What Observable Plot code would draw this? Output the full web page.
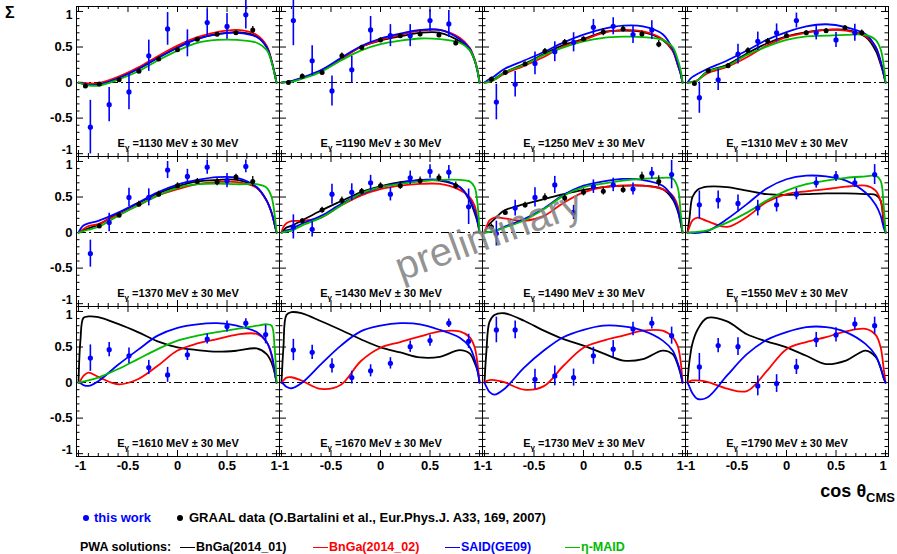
<!DOCTYPE html>
<html><head><meta charset="utf-8">
<script src="https://cdn.jsdelivr.net/npm/d3@7"></script>
<script src="https://cdn.jsdelivr.net/npm/@observablehq/plot@0.6"></script>
<style>
body{margin:0;background:#fff;}
#wrap{position:relative;width:897px;height:554px;font-family:"Liberation Sans",Arial,Helvetica,sans-serif;overflow:hidden;}
#wrap svg{display:block;}
.leg{position:absolute;font-weight:bold;white-space:nowrap;line-height:14px;}
.r1{font-size:13px;}
.r2{font-size:12.5px;}
.dot{position:absolute;width:6px;height:6px;border-radius:50%;}
.ln{position:absolute;width:15px;height:0;border-top:1.5px solid;}
</style></head><body><div id="wrap"></div>
<script>
// ---------------- data ----------------
const energies = [1130, 1190, 1250, 1310, 1370, 1430, 1490, 1550, 1610, 1670, 1730, 1790];
const energyBinHalfWidth = 30;

const cosGrid = [-1, -0.98, -0.95, -0.9, -0.8, -0.6, -0.4, -0.2, 0, 0.2, 0.4, 0.6, 0.8, 0.9, 0.95, 0.98, 1];

// PWA solution BnGa(2014_01) (black)
const bngaA = [
  [0, -0.005, -0.015, -0.03, -0.03, 0.06, 0.19, 0.345, 0.495, 0.62, 0.68, 0.71, 0.65, 0.5, 0.3, 0.13, 0],
  [0, 0.002, 0.008, 0.015, 0.06, 0.17, 0.33, 0.50, 0.59, 0.65, 0.70, 0.70, 0.58, 0.46, 0.31, 0.16, 0],
  [0, 0.005, 0.015, 0.05, 0.14, 0.26, 0.40, 0.53, 0.61, 0.71, 0.73, 0.71, 0.60, 0.45, 0.26, 0.13, 0],
  [0, 0.003, 0.01, 0.03, 0.155, 0.25, 0.41, 0.55, 0.65, 0.71, 0.74, 0.74, 0.64, 0.45, 0.26, 0.12, 0],
  [0, 0.01, 0.03, 0.06, 0.11, 0.27, 0.41, 0.55, 0.65, 0.72, 0.74, 0.74, 0.63, 0.45, 0.28, 0.12, 0],
  [0, 0.03, 0.07, 0.095, 0.165, 0.31, 0.44, 0.566, 0.65, 0.71, 0.73, 0.73, 0.64, 0.45, 0.28, 0.14, 0],
  [0, 0.06, 0.12, 0.19, 0.31, 0.40, 0.47, 0.54, 0.60, 0.64, 0.66, 0.66, 0.61, 0.47, 0.31, 0.14, 0],
  [0, 0.2, 0.5, 0.60, 0.645, 0.64, 0.59, 0.54, 0.53, 0.54, 0.55, 0.55, 0.54, 0.53, 0.45, 0.15, 0],
  [0, 0.6, 0.91, 0.93, 0.92, 0.825, 0.71, 0.58, 0.495, 0.457, 0.434, 0.448, 0.48, 0.40, 0.28, 0.14, 0],
  [0, 0.5, 0.95, 0.99, 0.976, 0.863, 0.74, 0.61, 0.495, 0.425, 0.354, 0.363, 0.457, 0.41, 0.28, 0.165, 0],
  [0, 0.45, 0.85, 0.95, 0.975, 0.87, 0.73, 0.61, 0.52, 0.41, 0.31, 0.33, 0.45, 0.40, 0.26, 0.12, 0],
  [0, 0.3, 0.55, 0.74, 0.91, 0.86, 0.68, 0.58, 0.495, 0.377, 0.26, 0.31, 0.45, 0.36, 0.21, 0.07, 0]
];
// PWA solution BnGa(2014_02) (red)
const bngaB = [
  [0, 0, -0.005, -0.01, -0.01, 0.08, 0.21, 0.37, 0.52, 0.64, 0.71, 0.74, 0.67, 0.52, 0.31, 0.13, 0],
  [0, 0.002, 0.008, 0.015, 0.06, 0.165, 0.33, 0.50, 0.60, 0.67, 0.73, 0.74, 0.63, 0.49, 0.33, 0.17, 0],
  [0, 0.003, 0.01, 0.04, 0.12, 0.235, 0.36, 0.51, 0.60, 0.70, 0.74, 0.72, 0.61, 0.45, 0.26, 0.13, 0],
  [0, 0.003, 0.01, 0.03, 0.13, 0.22, 0.355, 0.52, 0.64, 0.70, 0.74, 0.73, 0.65, 0.50, 0.30, 0.13, 0],
  [0, 0.02, 0.05, 0.09, 0.12, 0.25, 0.38, 0.52, 0.61, 0.68, 0.71, 0.71, 0.63, 0.45, 0.28, 0.12, 0],
  [0, 0.08, 0.13, 0.16, 0.165, 0.21, 0.38, 0.52, 0.61, 0.66, 0.684, 0.684, 0.60, 0.50, 0.38, 0.19, 0],
  [0, 0.08, 0.17, 0.21, 0.20, 0.165, 0.235, 0.42, 0.566, 0.64, 0.66, 0.66, 0.61, 0.52, 0.38, 0.165, 0],
  [0, 0.08, 0.17, 0.21, 0.16, 0.08, 0.22, 0.43, 0.54, 0.58, 0.61, 0.645, 0.66, 0.59, 0.45, 0.21, 0],
  [0, 0.03, 0.094, 0.14, 0.08, -0.024, 0.047, 0.236, 0.45, 0.55, 0.61, 0.675, 0.684, 0.57, 0.38, 0.165, 0],
  [0, 0.03, 0.07, 0.075, 0.03, -0.09, -0.03, 0.30, 0.49, 0.57, 0.65, 0.72, 0.72, 0.64, 0.5, 0.26, 0],
  [0, 0.02, 0.035, 0.035, 0.005, -0.10, -0.05, 0.24, 0.49, 0.59, 0.66, 0.73, 0.73, 0.64, 0.52, 0.31, 0],
  [0, 0.015, 0.03, 0.03, 0.01, -0.085, -0.12, 0.16, 0.47, 0.57, 0.64, 0.72, 0.755, 0.67, 0.50, 0.21, 0]
];
// PWA solution SAID(GE09) (blue)
const said = [
  [0, -0.005, -0.015, -0.03, -0.03, 0.06, 0.19, 0.345, 0.49, 0.61, 0.68, 0.70, 0.64, 0.5, 0.3, 0.13, 0],
  [0, 0.004, 0.01, 0.02, 0.065, 0.175, 0.345, 0.51, 0.62, 0.69, 0.74, 0.74, 0.61, 0.48, 0.32, 0.16, 0],
  [0, 0.02, 0.05, 0.09, 0.19, 0.31, 0.43, 0.566, 0.675, 0.755, 0.80, 0.79, 0.68, 0.47, 0.27, 0.13, 0],
  [0, 0.04, 0.08, 0.12, 0.19, 0.31, 0.45, 0.60, 0.71, 0.79, 0.82, 0.78, 0.68, 0.50, 0.30, 0.13, 0],
  [0, 0.05, 0.10, 0.13, 0.165, 0.28, 0.42, 0.566, 0.675, 0.74, 0.78, 0.77, 0.64, 0.45, 0.28, 0.12, 0],
  [0, 0.01, 0.03, 0.05, 0.12, 0.235, 0.40, 0.54, 0.64, 0.70, 0.74, 0.74, 0.64, 0.47, 0.31, 0.165, 0],
  [0, 0.005, 0.01, 0.02, 0.08, 0.19, 0.34, 0.53, 0.66, 0.72, 0.755, 0.74, 0.66, 0.50, 0.33, 0.165, 0],
  [0, 0, -0.005, -0.005, 0.02, 0.19, 0.40, 0.62, 0.75, 0.80, 0.79, 0.73, 0.56, 0.39, 0.24, 0.08, 0],
  [0, -0.01, -0.035, -0.047, 0.02, 0.25, 0.46, 0.66, 0.77, 0.82, 0.835, 0.80, 0.71, 0.57, 0.40, 0.17, 0],
  [0, -0.02, -0.06, -0.08, -0.01, 0.26, 0.52, 0.72, 0.80, 0.835, 0.82, 0.74, 0.63, 0.50, 0.33, 0.165, 0],
  [0, -0.06, -0.13, -0.17, -0.09, 0.21, 0.45, 0.64, 0.74, 0.80, 0.79, 0.73, 0.59, 0.45, 0.28, 0.14, 0],
  [0, -0.06, -0.15, -0.23, -0.21, 0.10, 0.40, 0.60, 0.71, 0.78, 0.78, 0.71, 0.54, 0.38, 0.21, 0.07, 0]
];
// eta-MAID (green), only up to 1610 MeV
const etaMaid = [
  [0, -0.01, -0.025, -0.04, -0.045, 0.04, 0.155, 0.31, 0.45, 0.56, 0.60, 0.60, 0.56, 0.46, 0.29, 0.12, 0],
  [0, 0.002, 0.005, 0.01, 0.05, 0.15, 0.31, 0.45, 0.54, 0.59, 0.62, 0.61, 0.56, 0.46, 0.32, 0.16, 0],
  [0, 0.004, 0.012, 0.04, 0.14, 0.25, 0.39, 0.495, 0.58, 0.63, 0.645, 0.64, 0.60, 0.50, 0.33, 0.18, 0],
  [0, 0.003, 0.01, 0.03, 0.15, 0.235, 0.39, 0.505, 0.60, 0.65, 0.66, 0.67, 0.67, 0.60, 0.47, 0.26, 0],
  [0, 0.005, 0.02, 0.04, 0.08, 0.235, 0.38, 0.52, 0.63, 0.68, 0.69, 0.68, 0.68, 0.63, 0.5, 0.26, 0],
  [0, 0.005, 0.015, 0.025, 0.095, 0.21, 0.38, 0.55, 0.64, 0.684, 0.72, 0.74, 0.74, 0.72, 0.64, 0.40, 0],
  [0, 0.003, 0.01, 0.02, 0.07, 0.17, 0.33, 0.52, 0.64, 0.69, 0.73, 0.755, 0.77, 0.76, 0.64, 0.3, 0],
  [0, 0, 0.005, 0.01, 0.03, 0.14, 0.28, 0.45, 0.59, 0.68, 0.73, 0.77, 0.79, 0.80, 0.73, 0.4, 0],
  [0, 0.005, 0.015, 0.03, 0.07, 0.19, 0.33, 0.47, 0.59, 0.66, 0.71, 0.755, 0.80, 0.82, 0.80, 0.5, 0]
];

// this work (blue points)
const thisWorkCos = [-0.88, -0.69, -0.49, -0.29, -0.1, 0.1, 0.3, 0.5, 0.69, 0.89];
const thisWorkSigma = [
  [-0.627, -0.311, -0.132, 0.377, 0.755, 0.552, 0.844, 0.79, 0.953, null],
  [0.873, 0.307, -0.118, 0.179, 0.74, 0.66, 0.66, 0.873, 0.825, null],
  [-0.274, -0.024, 0.269, 0.434, 0.566, 0.778, 0.792, 0.675, 0.74, null],
  [-0.212, 0.038, 0.40, 0.58, 0.70, 0.873, 0.70, 0.60, 0.70, null],
  [-0.297, 0.14, 0.495, 0.495, 0.88, 0.79, 0.92, 0.73, 0.93, null],
  [0.08, 0.047, 0.54, 0.566, 0.70, 0.54, 0.77, 0.86, 0.85, 0.363],
  [-0.014, 0.344, 0.495, 0.67, 0.283, 0.646, 0.67, 0.613, 0.835, 0.816],
  [0.39, 0.458, 0.41, 0.344, 0.39, 0.54, 0.70, 0.79, 0.70, 0.816],
  [0.344, 0.462, 0.377, 0.212, 0.108, 0.39, 0.613, 0.788, 0.835, 0.675],
  [0.458, 0.425, 0.236, 0.07, 0.165, 0.27, 0.505, 0.59, 0.835, 0.58],
  [0.74, 0.74, 0.047, 0.094, 0.07, 0.377, 0.47, 0.755, 0.835, 0.66],
  [0.22, 0.52, 0.505, -0.047, -0.014, 0.22, 0.60, 0.67, 0.825, 0.80]
];
const thisWorkErr = [
  [0.377, 0.24, 0.25, 0.22, 0.23, 0.19, 0.19, 0.18, 0.2, null],
  [0.354, 0.21, 0.21, 0.19, 0.19, 0.155, 0.155, 0.15, 0.19, null],
  [0.25, 0.18, 0.16, 0.14, 0.135, 0.11, 0.12, 0.125, 0.13, null],
  [0.22, 0.15, 0.14, 0.13, 0.125, 0.105, 0.1, 0.105, 0.12, null],
  [0.19, 0.13, 0.13, 0.12, 0.12, 0.1, 0.1, 0.1, 0.09, null],
  [0.17, 0.11, 0.14, 0.12, 0.105, 0.095, 0.095, 0.095, 0.095, 0.25],
  [0.175, 0.11, 0.135, 0.12, 0.1, 0.095, 0.095, 0.085, 0.08, 0.2],
  [0.195, 0.125, 0.12, 0.11, 0.1, 0.08, 0.075, 0.07, 0.065, 0.14],
  [0.186, 0.1, 0.11, 0.1, 0.105, 0.08, 0.07, 0.078, 0.064, 0.13],
  [0.15, 0.1, 0.1, 0.09, 0.085, 0.08, 0.08, 0.08, 0.06, 0.1],
  [0.18, 0.125, 0.14, 0.14, 0.12, 0.12, 0.12, 0.095, 0.083, 0.12],
  [0.19, 0.1, 0.125, 0.14, 0.125, 0.106, 0.106, 0.1, 0.085, 0.12]
];

// GRAAL data (black points), 1130 - 1490 MeV
const graalCos = [-0.93, -0.79, -0.59, -0.39, -0.19, 0.0, 0.2, 0.4, 0.59, 0.76];
const graalSigma = [
  [-0.047, -0.02, 0.04, 0.16, 0.33, 0.46, 0.61, 0.68, 0.70, 0.74],
  [0.0, 0.09, 0.14, 0.377, 0.495, 0.6, 0.66, 0.684, 0.67, 0.557],
  [0.047, 0.14, 0.26, 0.44, 0.566, 0.613, 0.71, 0.755, 0.684, 0.54],
  [-0.014, 0.165, 0.236, 0.45, 0.58, 0.66, 0.70, 0.73, 0.77, 0.70],
  [null, 0.094, 0.245, 0.40, 0.54, 0.66, 0.72, 0.71, 0.78, 0.72],
  [null, 0.165, 0.316, 0.45, 0.58, 0.66, 0.66, 0.73, 0.77, 0.66],
  [0.08, 0.283, 0.387, 0.495, 0.486, 0.566, 0.58, 0.604, 0.788, 0.72]
];
const graalErr = [
  [0.02, 0.02, 0.02, 0.03, 0.02, 0.02, 0.02, 0.02, 0.02, 0.05],
  [0.02, 0.03, 0.03, 0.04, 0.03, 0.03, 0.03, 0.04, 0.04, 0.04],
  [0.03, 0.03, 0.03, 0.04, 0.04, 0.03, 0.05, 0.04, 0.04, 0.05],
  [0.03, 0.03, 0.03, 0.04, 0.04, 0.04, 0.03, 0.03, 0.03, 0.04],
  [null, 0.03, 0.03, 0.04, 0.04, 0.04, 0.04, 0.05, 0.04, 0.07],
  [null, 0.03, 0.04, 0.05, 0.04, 0.04, 0.05, 0.05, 0.05, 0.05],
  [0.04, 0.04, 0.04, 0.05, 0.05, 0.05, 0.05, 0.05, 0.06, 0.08]
];

const majorTicks = [-1, -0.5, 0, 0.5, 1];
const innerTickLabels = [-0.5, 0, 0.5];
const lowEdgeLabel = [-1];
const highEdgeLabel = [1];
const minorTicks = [-0.9, -0.8, -0.7, -0.6, -0.4, -0.3, -0.2, -0.1, 0.1, 0.2, 0.3, 0.4, 0.6, 0.7, 0.8, 0.9];
const zeroLevel = [0];
const cosEdges = [-1, 1];

// ---------------- build ----------------
const COLS = 4;
const W = 203, H = 150;
const colOf = i => i % COLS, rowOf = i => Math.floor(i / COLS);

const panels = energies.map((e, i) => ({col: colOf(i), row: rowOf(i), e}));
const modelRows = series => series.flatMap((ys, i) => ys.map((y, j) => ({col: colOf(i), row: rowOf(i), x: cosGrid[j], y})));
const pointRows = (xs, yss, ess) => yss.flatMap((ys, i) => ys.map((y, j) => y == null ? null :
  ({col: colOf(i), row: rowOf(i), x: xs[j], y, e: ess[i][j]})).filter(d => d));

const thisWork = pointRows(thisWorkCos, thisWorkSigma, thisWorkErr);
const graal = pointRows(graalCos, graalSigma, graalErr);
const fmt = d => String(d);
const fc = {fx: "col", fy: "row"};
const lab = {tickSize: 0, tickFormat: fmt, fontSize: 13, fontWeight: "bold", label: null};
const labEdge = {...lab, fontSize: 12};

const curve = "catmull-rom";
const chart = Plot.plot({
  width: 897, height: 505,
  marginLeft: 76, marginRight: 9, marginTop: 6, marginBottom: 49,
  x: {domain: [-1.02, 1.03]},
  y: {domain: [-1.04, 1.07]},
  fx: {domain: [0, 1, 2, 3], axis: null, padding: 0, paddingInner: 0, paddingOuter: 0, round: false},
  fy: {domain: [0, 1, 2], axis: null, padding: 0, paddingInner: 0, paddingOuter: 0, round: false},
  style: {fontFamily: "'Liberation Sans', Arial, Helvetica, sans-serif", fontWeight: "bold", background: "white", overflow: "visible"},
  marks: [
    Plot.frame({stroke: "black", strokeWidth: 1}),
    Plot.tickX(majorTicks, {insetTop: H - 6, stroke: "black"}),
    Plot.tickX(majorTicks, {insetBottom: H - 6, stroke: "black"}),
    Plot.tickX(minorTicks, {insetTop: H - 3, stroke: "black"}),
    Plot.tickX(minorTicks, {insetBottom: H - 3, stroke: "black"}),
    Plot.tickY(majorTicks, {insetRight: W - 7, stroke: "black"}),
    Plot.tickY(majorTicks, {insetLeft: W - 7, stroke: "black"}),
    Plot.tickY(minorTicks, {insetRight: W - 3.5, stroke: "black"}),
    Plot.tickY(minorTicks, {insetLeft: W - 3.5, stroke: "black"}),
    Plot.axisY(innerTickLabels, {anchor: "left", tickPadding: 4, ...lab}),
    Plot.axisY(highEdgeLabel, {anchor: "left", tickPadding: 4, dy: 3.5, ...labEdge}),
    Plot.axisY(lowEdgeLabel, {anchor: "left", tickPadding: 4, dy: -3.5, ...labEdge}),
    Plot.axisX(innerTickLabels, {anchor: "bottom", tickPadding: 4, ...lab}),
    Plot.axisX(lowEdgeLabel, {anchor: "bottom", tickPadding: 4, dx: 2, ...lab}),
    Plot.axisX(highEdgeLabel, {anchor: "bottom", tickPadding: 4, dx: -2.5, ...lab}),
    Plot.ruleY(zeroLevel, {x1: cosEdges[0], x2: cosEdges[1], stroke: "black", strokeWidth: 1.1, strokeDasharray: "8,3,2,3"}),
    Plot.line(modelRows(bngaA), {x: "x", y: "y", ...fc, curve, stroke: "#000000", strokeWidth: 1.8}),
    Plot.line(modelRows(bngaB), {x: "x", y: "y", ...fc, curve, stroke: "#ff0000", strokeWidth: 1.8}),
    Plot.line(modelRows(said), {x: "x", y: "y", ...fc, curve, stroke: "#0000ff", strokeWidth: 1.8}),
    Plot.line(modelRows(etaMaid), {x: "x", y: "y", ...fc, curve, stroke: "#00bb00", strokeWidth: 1.8}),
    Plot.ruleX(graal, {x: "x", y1: d => d.y - d.e, y2: d => d.y + d.e, ...fc, stroke: "black", strokeWidth: 1.3}),
    Plot.dot(graal, {x: "x", y: "y", ...fc, r: 2.5, fill: "black", stroke: "none"}),
    Plot.ruleX(thisWork, {x: "x", y1: d => d.y - d.e, y2: d => d.y + d.e, ...fc, stroke: "#0000ff", strokeWidth: 1.6}),
    Plot.dot(thisWork, {x: "x", y: "y", ...fc, r: 2.6, fill: "#0000ff", stroke: "none"}),
    Plot.text(panels, {...fc, text: d => `E@ =${d.e} MeV \u00b1 ${energyBinHalfWidth} MeV`, frameAnchor: "bottom", dy: -10, fontSize: 11, fontWeight: "bold", fill: "black"})
  ]
});

const wrap = document.getElementById("wrap");
wrap.appendChild(chart);
const svg = d3.select(chart);

// subscript gamma in the energy labels
svg.selectAll("text").each(function () {
  const t = this.textContent;
  if (t.startsWith("E@")) {
    const s = d3.select(this);
    s.text(null);
    s.append("tspan").text("E");
    s.append("tspan").attr("font-size", 8).attr("dy", 3).text("\u03b3");
    s.append("tspan").attr("dy", -3).text(t.slice(2));
  }
});

// axis titles
svg.append("text").attr("x", 5).attr("y", 18).attr("text-anchor", "start").attr("font-size", 16).attr("font-weight", "bold").attr("fill", "black").text("\u03a3");
const xt = svg.append("text").attr("x", 895).attr("y", 497).attr("text-anchor", "end").attr("font-size", 18).attr("font-weight", "bold").attr("fill", "black");
xt.append("tspan").text("cos \u03b8");
xt.append("tspan").attr("font-size", 13).attr("dy", 5).text("CMS");

// watermark
svg.append("text").attr("transform", "translate(401,281) rotate(-20)").attr("text-anchor", "start").attr("font-size", 40).attr("font-weight", "normal")
  .attr("fill", "#808080").attr("fill-opacity", 0.85).text("preliminary");

// legend
function add(html, cls, style) { const el = document.createElement("div"); el.className = cls; Object.assign(el.style, style); el.innerHTML = html; wrap.appendChild(el); }
add("", "dot", {left: "83px", top: "515px", background: "#0000ff"});
add("this work", "leg r1", {left: "94px", top: "511px", color: "#0000ff"});
add("", "dot", {left: "177px", top: "515px", background: "#000"});
add("GRAAL data (O.Bartalini et al., Eur.Phys.J. A33, 169, 2007)", "leg r1", {left: "189px", top: "511px", color: "#000"});
add("PWA solutions:", "leg r2", {left: "80px", top: "540px", color: "#000"});
const models = [["BnGa(2014_01)", "#000000", 180], ["BnGa(2014_02)", "#ff0000", 313], ["SAID(GE09)", "#0000ff", 445], ["\u03b7-MAID", "#00bb00", 565]];
for (const [name, col, x] of models) {
  add("", "ln", {left: x + "px", top: "547px", borderTopColor: col});
  add(name, "leg r2", {left: (x + 16) + "px", top: "540px", color: col});
}
</script></body></html>
